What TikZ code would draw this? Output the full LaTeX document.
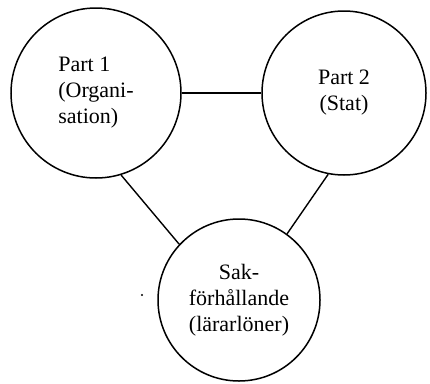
\documentclass[tikz,border=0pt]{standalone}
\usepackage{fontspec}
\setmainfont{Liberation Serif}
\begin{document}
\begin{tikzpicture}[x=1pt,y=-1pt,
  party/.style={circle,draw,line width=1.5pt,inner sep=0pt,
    font=\fontsize{22}{26}\selectfont},
  link/.style={line width=1.4pt}]
\useasboundingbox (0,0) rectangle (430,383);
\node[party,minimum size=170pt,align=left] (L) at (96,93) {Part 1\\(Organi-\\sation)};
\node[party,minimum size=164pt,align=center] (R) at (344,93) {Part 2\\(Stat)};
\node[party,minimum size=162pt,align=center] (B) at (239,300) {Sak-\\förhållande\\(lärarlöner)};
\draw[link] (L) -- (R);
\draw[link] (L.-73) -- (B.137);
\draw[link] (R.-101) -- (B.54);
\fill (142,295) circle (1.2pt);
\end{tikzpicture}
\end{document}
